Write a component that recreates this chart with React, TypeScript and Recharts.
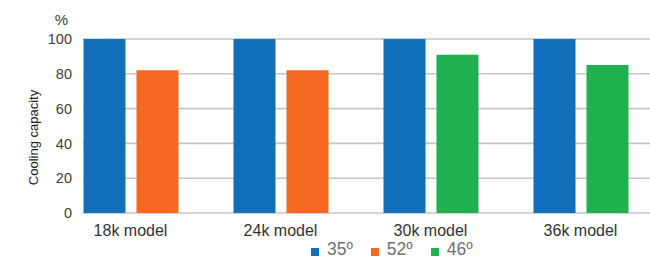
import React from "react";
import { BarChart, Bar, XAxis, YAxis, CartesianGrid, Legend, Label } from "recharts";

const categories = ["18k model", "24k model", "30k model", "36k model"];
const series35 = [100, 100, 100, 100];
const series52 = [82, 82, null, null];
const series46 = [null, null, 91, 85];
const yTicks = [0, 20, 40, 60, 80, 100];

const seriesInfo = [
  { key: "s35", name: "35º", color: "#1170b9" },
  { key: "s52", name: "52º", color: "#f46821" },
  { key: "s46", name: "46º", color: "#21b04f" },
];

const data = categories.map((c, i) => ({
  name: c,
  s35: series35[i],
  s52: series52[i],
  s46: series46[i],
}));

const FONT = "'Liberation Sans', Arial, sans-serif";

const YTick = (props: any) => {
  const { y, payload } = props;
  return (
    <text x={72} y={y} dy="0.36em" textAnchor="end" fontSize={14.5} fill="#404040" fontFamily={FONT}>
      {payload.value}
    </text>
  );
};

const XTick = (props: any) => {
  const { x, payload } = props;
  return (
    <text x={x} y={235.5} textAnchor="middle" fontSize={16} fill="#333" fontFamily={FONT}>
      {payload.value}
    </text>
  );
};

const LegendContent = () => (
  <div style={{ display: "flex", alignItems: "flex-end", fontFamily: FONT }}>
    {seriesInfo.map((s, i) => (
      <div key={s.key} style={{ display: "flex", alignItems: "flex-end", marginRight: i < seriesInfo.length - 1 ? 18 : 0 }}>
        <div style={{ width: 8, height: 8, background: s.color, marginRight: 8, marginBottom: 2 }} />
        <span style={{ fontSize: 17.5, color: "#707070", lineHeight: "17px" }}>{s.name}</span>
      </div>
    ))}
  </div>
);

export default function App() {
  return (
    <div style={{ width: 650, height: 260, overflow: "hidden", background: "#fff" }}>
      <style>{`body{margin:0;}`}</style>
      <BarChart
        width={650}
        height={260}
        data={data}
        margin={{ top: 39, right: -5.5, bottom: 0, left: 0 }}
        barSize={42}
        barGap={11}
      >
        <CartesianGrid horizontal vertical={false} x={83} width={567} stroke="#c6c6c6" strokeWidth={1.6} />
        <XAxis dataKey="name" axisLine={false} tickLine={false} height={47} tick={<XTick />} interval={0} />
        <YAxis
          width={55.5}
          domain={[0, 100]}
          ticks={yTicks}
          axisLine={false}
          tickLine={false}
          tick={<YTick />}
        >
          <Label
            content={() => (
              <g>
                <text x={61.5} y={25} textAnchor="middle" fontSize={15} fill="#404040" fontFamily={FONT}>%</text>
                <text
                  x={33}
                  y={137.5}
                  transform="rotate(-90 33 137.5)"
                  textAnchor="middle"
                  dominantBaseline="central"
                  fontSize={13}
                  fill="#222"
                  fontFamily={FONT}
                >
                  Cooling capacity
                </text>
              </g>
            )}
          />
        </YAxis>
        <Legend
          layout="horizontal"
          verticalAlign="middle"
          align="center"
          wrapperStyle={{ top: 241, left: 311, width: "auto", height: 18 }}
          content={<LegendContent />}
        />
        <Bar dataKey="s35" name="35º" stackId="a" fill={seriesInfo[0].color} isAnimationActive={false} />
        <Bar dataKey="s52" name="52º" stackId="b" fill={seriesInfo[1].color} isAnimationActive={false} />
        <Bar dataKey="s46" name="46º" stackId="b" fill={seriesInfo[2].color} isAnimationActive={false} />
      </BarChart>
    </div>
  );
}
